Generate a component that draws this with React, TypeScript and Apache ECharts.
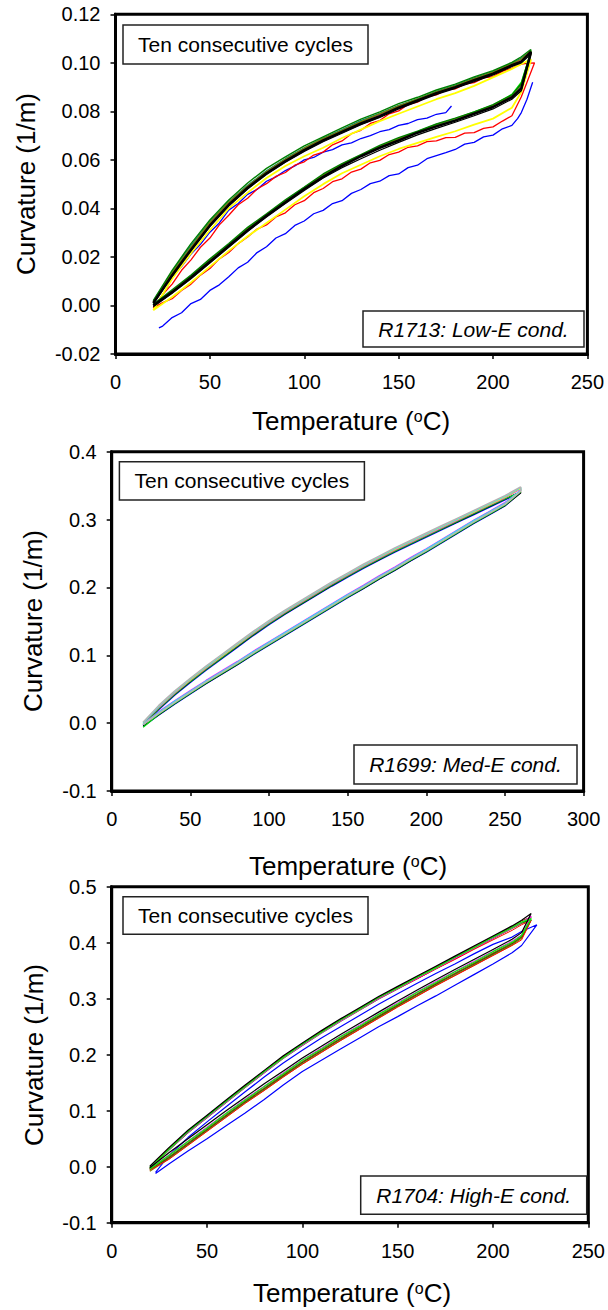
import React, { useEffect, useRef } from "react";
import * as echarts from "echarts";

const FONT = "Liberation Sans, Arial, Helvetica, sans-serif";

// ---------- Panel 1 : R1713 Low-E ----------
const P1_T = [20, 30, 40, 50, 60, 70, 80, 90, 100, 110, 120, 130, 140, 150, 160, 170, 180, 190, 200, 210, 215, 220];
const P1_RED_T = [20, 25, 30, 35, 40, 45, 50, 55, 60, 65, 70, 75, 80, 85, 90, 95, 100, 105, 110, 115, 120, 125, 130, 135, 140, 145, 150, 155, 160, 165, 170, 175, 180, 185, 190, 195, 200, 205, 210, 215, 218, 222];
const P1_BLUE_T = [23, 25, 30, 35, 40, 45, 50, 55, 60, 65, 70, 75, 80, 85, 90, 95, 100, 105, 110, 115, 120, 125, 130, 135, 140, 145, 150, 155, 160, 165, 170, 175, 180, 185, 190, 195, 200, 205, 210, 213, 215, 218, 221];
const P1_BLUE_UP_T = [27, 30, 35, 40, 45, 50, 55, 60, 65, 70, 75, 80, 85, 90, 95, 100, 105, 110, 115, 120, 125, 130, 135, 140, 145, 150, 155, 160, 165, 170, 175, 178];

const P1_BLUE_LO = [-0.0092, -0.0085, -0.005, -0.003, 0.0008, 0.0025, 0.0062, 0.0085, 0.0118, 0.0155, 0.0178, 0.0218, 0.0242, 0.0278, 0.0296, 0.033, 0.0348, 0.0378, 0.0392, 0.042, 0.0432, 0.0462, 0.0478, 0.0502, 0.0512, 0.0535, 0.0542, 0.0568, 0.0578, 0.0605, 0.0618, 0.063, 0.0643, 0.0665, 0.0672, 0.0695, 0.0702, 0.0728, 0.0742, 0.077, 0.0795, 0.085, 0.092];
const P1_BLUE_UP = [0.0068, 0.0118, 0.016, 0.0212, 0.0252, 0.0302, 0.034, 0.0393, 0.042, 0.0458, 0.0478, 0.0512, 0.053, 0.0556, 0.0575, 0.06, 0.061, 0.0632, 0.0642, 0.0662, 0.067, 0.0688, 0.07, 0.0716, 0.0725, 0.0742, 0.075, 0.0766, 0.0772, 0.0788, 0.0795, 0.0822];
const P1_RED_LO = [-0.001, 0.0012, 0.0028, 0.0062, 0.0088, 0.0125, 0.0152, 0.0192, 0.0218, 0.0255, 0.0282, 0.0315, 0.0332, 0.0365, 0.0382, 0.0415, 0.0432, 0.0465, 0.0482, 0.051, 0.0522, 0.055, 0.0562, 0.0588, 0.0598, 0.0622, 0.0632, 0.0652, 0.0658, 0.0675, 0.0678, 0.0692, 0.0693, 0.071, 0.0712, 0.073, 0.0736, 0.076, 0.0782, 0.086, 0.092, 0.1];
const P1_RED_UP = [-0.001, 0.0045, 0.0088, 0.0145, 0.0188, 0.024, 0.0278, 0.0332, 0.0372, 0.0415, 0.0442, 0.048, 0.0502, 0.0532, 0.0548, 0.0578, 0.0592, 0.062, 0.0632, 0.0662, 0.0678, 0.0708, 0.0722, 0.075, 0.0762, 0.079, 0.0802, 0.0828, 0.0838, 0.086, 0.0868, 0.0888, 0.0893, 0.0912, 0.0918, 0.0938, 0.0943, 0.0965, 0.0978, 0.0995, 0.0998, 0.1];
const P1_YELLOW_LO = [-0.002, 0.0035, 0.0095, 0.016, 0.0225, 0.0285, 0.034, 0.0395, 0.045, 0.05, 0.0545, 0.058, 0.0615, 0.0645, 0.067, 0.0695, 0.0718, 0.0745, 0.077, 0.0815, 0.088, 0.101];
const P1_YELLOW_UP = [-0.002, 0.011, 0.0215, 0.031, 0.04, 0.0465, 0.0525, 0.0575, 0.0615, 0.065, 0.069, 0.0725, 0.076, 0.079, 0.082, 0.085, 0.0875, 0.0905, 0.094, 0.0975, 0.0995, 0.1015];
const P1_LIME_LO = [0.0002, 0.0057, 0.0119, 0.0186, 0.0249, 0.0316, 0.0374, 0.0431, 0.0485, 0.0537, 0.058, 0.062, 0.0656, 0.0687, 0.0717, 0.0746, 0.0769, 0.0798, 0.0826, 0.087, 0.092, 0.1042];
const P1_LIME_UP = [0.0012, 0.013, 0.0238, 0.0338, 0.0418, 0.0485, 0.0546, 0.0597, 0.0643, 0.0684, 0.072, 0.0755, 0.0788, 0.082, 0.085, 0.0879, 0.0904, 0.0933, 0.096, 0.0994, 0.1012, 0.1044];
const P1_MAGENTA_LO = [0.0, 0.0056, 0.0117, 0.0183, 0.0247, 0.0312, 0.0373, 0.0428, 0.0484, 0.0534, 0.0578, 0.0618, 0.0653, 0.0684, 0.0715, 0.0743, 0.0768, 0.0795, 0.0823, 0.0863, 0.09, 0.1038];
const P1_MAGENTA_UP = [0.001, 0.0128, 0.0235, 0.0335, 0.042, 0.0488, 0.0548, 0.0598, 0.0642, 0.0683, 0.0718, 0.0752, 0.0785, 0.0818, 0.0848, 0.0878, 0.0902, 0.093, 0.0958, 0.0992, 0.101, 0.1042];
const P1_TEAL_LO = [0.0003, 0.0058, 0.0118, 0.0185, 0.0248, 0.0315, 0.0372, 0.0428, 0.0483, 0.0535, 0.058, 0.0618, 0.0652, 0.0685, 0.0714, 0.0742, 0.0766, 0.0793, 0.0822, 0.0862, 0.0905, 0.1042];
const P1_TEAL_UP = [0.0018, 0.014, 0.0248, 0.0345, 0.0428, 0.0495, 0.0555, 0.0605, 0.065, 0.069, 0.0725, 0.0762, 0.0792, 0.0825, 0.0852, 0.0882, 0.0908, 0.0938, 0.0965, 0.0998, 0.102, 0.1048];
const P1_OLIVE_LO = [0.0002, 0.006, 0.0122, 0.0188, 0.025, 0.0318, 0.0375, 0.0432, 0.0486, 0.0538, 0.0582, 0.062, 0.0655, 0.0688, 0.0715, 0.0745, 0.077, 0.0796, 0.0825, 0.0865, 0.091, 0.1035];
const P1_OLIVE_UP = [0.0015, 0.0135, 0.024, 0.0342, 0.0425, 0.0492, 0.0552, 0.0602, 0.0648, 0.0688, 0.0722, 0.0758, 0.079, 0.0822, 0.085, 0.088, 0.0905, 0.0935, 0.0962, 0.0996, 0.1015, 0.105];
const P1_BLACK2_LO = [-0.0005, 0.005, 0.011, 0.0175, 0.024, 0.0305, 0.0365, 0.042, 0.0474, 0.0525, 0.0568, 0.0605, 0.064, 0.0672, 0.0703, 0.073, 0.0755, 0.0782, 0.081, 0.085, 0.0885, 0.1035];
const P1_BLACK2_UP = [0.0005, 0.012, 0.0225, 0.0325, 0.041, 0.048, 0.054, 0.059, 0.0635, 0.0675, 0.071, 0.0745, 0.0775, 0.081, 0.084, 0.087, 0.0895, 0.0922, 0.095, 0.0985, 0.1, 0.1035];
const P1_GREEN_LO = [0.0005, 0.0065, 0.0125, 0.0192, 0.0255, 0.0322, 0.0378, 0.0435, 0.0488, 0.0542, 0.0585, 0.0622, 0.066, 0.0692, 0.0718, 0.0748, 0.0772, 0.0798, 0.0828, 0.0868, 0.0915, 0.1045];
const P1_GREEN_UP = [0.002, 0.0145, 0.0255, 0.0352, 0.0435, 0.0505, 0.0565, 0.0612, 0.0658, 0.0695, 0.0732, 0.0768, 0.0798, 0.0832, 0.0858, 0.0888, 0.0912, 0.0942, 0.0968, 0.1002, 0.1025, 0.1055];
const P1_BLACK_LO = [0.0, 0.0055, 0.0115, 0.018, 0.0245, 0.031, 0.037, 0.0425, 0.048, 0.053, 0.0575, 0.0615, 0.065, 0.068, 0.0712, 0.0738, 0.0762, 0.079, 0.0818, 0.0858, 0.0895, 0.104];
const P1_BLACK_UP = [0.001, 0.0125, 0.023, 0.033, 0.0415, 0.0485, 0.0545, 0.0595, 0.064, 0.068, 0.0715, 0.075, 0.078, 0.0815, 0.0845, 0.0875, 0.09, 0.0928, 0.0955, 0.099, 0.1005, 0.1045];

// ---------- Panel 2 : R1699 Med-E ----------
const P2_T = [20, 30, 40, 50, 60, 70, 80, 90, 100, 110, 120, 130, 140, 150, 160, 170, 180, 190, 200, 210, 220, 230, 240, 250, 260];
const P2_BLUE_LO = [-0.005, 0.012, 0.028, 0.043, 0.058, 0.072, 0.086, 0.101, 0.115, 0.129, 0.143, 0.157, 0.171, 0.185, 0.198, 0.212, 0.225, 0.239, 0.252, 0.266, 0.28, 0.294, 0.307, 0.32, 0.34];
const P2_BLUE_UP = [-0.003, 0.02, 0.041, 0.06, 0.078, 0.095, 0.112, 0.129, 0.145, 0.16, 0.174, 0.188, 0.202, 0.215, 0.228, 0.24, 0.252, 0.263, 0.274, 0.285, 0.296, 0.307, 0.318, 0.329, 0.34];
const P2_BLACK_LO = [-0.004, 0.0125, 0.0285, 0.0435, 0.0585, 0.0725, 0.0865, 0.1015, 0.1155, 0.1295, 0.1435, 0.1575, 0.1715, 0.1855, 0.1985, 0.2125, 0.2255, 0.2395, 0.2525, 0.2665, 0.2805, 0.2945, 0.3075, 0.3205, 0.339];
const P2_BLACK_UP = [-0.002, 0.021, 0.042, 0.061, 0.079, 0.096, 0.113, 0.13, 0.146, 0.161, 0.175, 0.189, 0.203, 0.216, 0.229, 0.241, 0.253, 0.264, 0.275, 0.286, 0.297, 0.308, 0.319, 0.33, 0.341];
const P2_LIME_LO = [-0.006, 0.013, 0.029, 0.044, 0.059, 0.073, 0.087, 0.102, 0.116, 0.13, 0.144, 0.158, 0.172, 0.186, 0.199, 0.213, 0.226, 0.24, 0.253, 0.267, 0.281, 0.295, 0.308, 0.321, 0.341];
const P2_LIME_UP = [-0.002, 0.0215, 0.0425, 0.0615, 0.0795, 0.0965, 0.1135, 0.1305, 0.1465, 0.1615, 0.1755, 0.1895, 0.2035, 0.2165, 0.2295, 0.2415, 0.2535, 0.2645, 0.2755, 0.2865, 0.2975, 0.3085, 0.3195, 0.3305, 0.342];
const P2_MAGENTA_LO = [-0.001, 0.017, 0.033, 0.048, 0.063, 0.077, 0.091, 0.106, 0.12, 0.134, 0.148, 0.162, 0.176, 0.19, 0.203, 0.217, 0.23, 0.244, 0.257, 0.271, 0.285, 0.299, 0.312, 0.325, 0.343];
const P2_MAGENTA_UP = [0.001, 0.023, 0.044, 0.063, 0.081, 0.098, 0.115, 0.132, 0.148, 0.163, 0.177, 0.191, 0.205, 0.218, 0.231, 0.243, 0.255, 0.266, 0.277, 0.288, 0.299, 0.31, 0.321, 0.332, 0.345];
const P2_YELLOW_LO = [-0.002, 0.015, 0.031, 0.046, 0.061, 0.075, 0.089, 0.104, 0.118, 0.132, 0.146, 0.16, 0.174, 0.188, 0.201, 0.215, 0.228, 0.242, 0.255, 0.269, 0.283, 0.297, 0.31, 0.323, 0.342];
const P2_YELLOW_UP = [0.001, 0.024, 0.045, 0.064, 0.082, 0.099, 0.116, 0.133, 0.149, 0.164, 0.178, 0.192, 0.206, 0.219, 0.232, 0.244, 0.256, 0.267, 0.278, 0.289, 0.3, 0.311, 0.322, 0.333, 0.346];
const P2_CYAN_LO = [-0.002, 0.016, 0.032, 0.047, 0.062, 0.076, 0.09, 0.105, 0.119, 0.133, 0.147, 0.161, 0.175, 0.189, 0.202, 0.216, 0.229, 0.243, 0.256, 0.27, 0.284, 0.298, 0.311, 0.324, 0.343];
const P2_CYAN_UP = [0.0, 0.025, 0.046, 0.065, 0.083, 0.1, 0.117, 0.134, 0.15, 0.165, 0.179, 0.193, 0.207, 0.22, 0.233, 0.245, 0.257, 0.268, 0.279, 0.29, 0.301, 0.312, 0.323, 0.334, 0.347];
const P2_GRAY_LO = [-0.002, 0.0145, 0.0305, 0.0455, 0.0605, 0.0745, 0.0885, 0.1035, 0.1175, 0.1315, 0.1455, 0.1595, 0.1735, 0.1875, 0.2005, 0.2145, 0.2275, 0.2415, 0.2545, 0.2685, 0.2825, 0.2965, 0.3095, 0.3225, 0.342];
const P2_GRAY_UP = [0.001, 0.026, 0.047, 0.066, 0.084, 0.101, 0.118, 0.135, 0.151, 0.166, 0.18, 0.194, 0.208, 0.221, 0.234, 0.246, 0.258, 0.269, 0.28, 0.291, 0.302, 0.313, 0.324, 0.335, 0.348];

// ---------- Panel 3 : R1704 High-E ----------
const P3_T = [20, 30, 40, 50, 60, 70, 80, 90, 100, 110, 120, 130, 140, 150, 160, 170, 180, 190, 200, 210, 215, 220];
const P3_BLUE_T = [23, 30, 40, 50, 60, 70, 80, 90, 100, 110, 120, 130, 140, 150, 160, 170, 180, 190, 200, 210, 215, 223];
const P3_BLUE_LO = [-0.012, 0.005, 0.028, 0.05, 0.073, 0.096, 0.12, 0.146, 0.17, 0.19, 0.21, 0.23, 0.25, 0.268, 0.287, 0.305, 0.324, 0.343, 0.362, 0.382, 0.395, 0.432];
const P3_BLUE_UP = [-0.01, 0.02, 0.052, 0.08, 0.107, 0.134, 0.16, 0.185, 0.208, 0.23, 0.25, 0.27, 0.29, 0.309, 0.327, 0.345, 0.362, 0.38, 0.397, 0.41, 0.42, 0.432];
const P3_GRAY_LO = [-0.004, 0.018, 0.043, 0.068, 0.093, 0.118, 0.141, 0.165, 0.188, 0.209, 0.23, 0.25, 0.27, 0.29, 0.309, 0.328, 0.346, 0.364, 0.382, 0.4, 0.411, 0.444];
const P3_GRAY_UP = [-0.002, 0.029, 0.06, 0.087, 0.114, 0.141, 0.167, 0.193, 0.216, 0.238, 0.259, 0.279, 0.299, 0.317, 0.335, 0.353, 0.371, 0.389, 0.407, 0.425, 0.434, 0.444];
const P3_OLIVE_LO = [-0.008, 0.014, 0.039, 0.064, 0.089, 0.114, 0.137, 0.161, 0.184, 0.205, 0.226, 0.246, 0.266, 0.286, 0.305, 0.324, 0.342, 0.36, 0.378, 0.396, 0.408, 0.44];
const P3_OLIVE_UP = [-0.004, 0.03, 0.061, 0.088, 0.115, 0.142, 0.168, 0.194, 0.217, 0.239, 0.26, 0.28, 0.3, 0.318, 0.336, 0.354, 0.372, 0.39, 0.408, 0.426, 0.435, 0.44];
const P3_DKGREEN_LO = [-0.005, 0.016, 0.041, 0.066, 0.091, 0.116, 0.139, 0.163, 0.186, 0.207, 0.228, 0.248, 0.268, 0.288, 0.307, 0.326, 0.344, 0.362, 0.38, 0.398, 0.41, 0.441];
const P3_DKGREEN_UP = [-0.001, 0.031, 0.062, 0.089, 0.116, 0.143, 0.169, 0.195, 0.218, 0.24, 0.261, 0.281, 0.301, 0.319, 0.337, 0.355, 0.373, 0.391, 0.409, 0.427, 0.436, 0.441];
const P3_RED_LO = [-0.006, 0.013, 0.038, 0.063, 0.088, 0.113, 0.136, 0.16, 0.183, 0.204, 0.225, 0.245, 0.265, 0.285, 0.304, 0.323, 0.341, 0.359, 0.377, 0.395, 0.405, 0.44];
const P3_RED_UP = [-0.003, 0.033, 0.064, 0.091, 0.118, 0.145, 0.171, 0.197, 0.22, 0.241, 0.262, 0.281, 0.301, 0.318, 0.335, 0.353, 0.37, 0.388, 0.405, 0.422, 0.432, 0.44];
const P3_BROWN_LO = [-0.004, 0.017, 0.042, 0.067, 0.092, 0.117, 0.14, 0.164, 0.187, 0.208, 0.229, 0.249, 0.269, 0.289, 0.308, 0.327, 0.345, 0.363, 0.381, 0.399, 0.41, 0.446];
const P3_BROWN_UP = [0.0, 0.033, 0.064, 0.091, 0.118, 0.145, 0.171, 0.197, 0.22, 0.242, 0.263, 0.283, 0.303, 0.321, 0.339, 0.357, 0.375, 0.393, 0.411, 0.429, 0.439, 0.446];
const P3_MAGENTA_LO = [-0.003, 0.021, 0.046, 0.071, 0.096, 0.121, 0.144, 0.168, 0.191, 0.212, 0.233, 0.253, 0.273, 0.293, 0.312, 0.331, 0.349, 0.367, 0.385, 0.403, 0.414, 0.447];
const P3_MAGENTA_UP = [-0.001, 0.03, 0.061, 0.088, 0.115, 0.142, 0.168, 0.194, 0.217, 0.239, 0.26, 0.28, 0.3, 0.318, 0.336, 0.354, 0.372, 0.39, 0.408, 0.426, 0.436, 0.447];
const P3_LIME_LO = [-0.004, 0.02, 0.045, 0.069, 0.095, 0.119, 0.143, 0.166, 0.19, 0.21, 0.232, 0.251, 0.272, 0.291, 0.311, 0.329, 0.348, 0.365, 0.384, 0.401, 0.413, 0.443];
const P3_LIME_UP = [-0.002, 0.031, 0.063, 0.09, 0.117, 0.143, 0.17, 0.195, 0.219, 0.24, 0.262, 0.281, 0.302, 0.319, 0.338, 0.355, 0.374, 0.391, 0.41, 0.427, 0.437, 0.443];
const P3_BLACK_LO = [-0.002, 0.025, 0.05, 0.075, 0.1, 0.124, 0.148, 0.171, 0.194, 0.215, 0.236, 0.256, 0.276, 0.296, 0.315, 0.334, 0.352, 0.37, 0.388, 0.406, 0.418, 0.452];
const P3_BLACK_UP = [0.001, 0.034, 0.065, 0.092, 0.119, 0.146, 0.172, 0.198, 0.221, 0.243, 0.264, 0.284, 0.304, 0.322, 0.34, 0.358, 0.376, 0.394, 0.412, 0.43, 0.44, 0.452];

const LEGEND_TEXT = "Ten consecutive cycles";
const PANEL_LABELS = ["R1713: Low-E cond.", "R1699: Med-E cond.", "R1704: High-E cond."];

function loop(T: number[], lo: number[], up: number[]) {
  const a = T.map((t, i) => [t, lo[i]]);
  const b = T.map((t, i) => [t, up[i]]).reverse();
  return a.concat(b);
}
function branch(T: number[], v: number[]) {
  return T.map((t, i) => [t, v[i]]);
}

function line(idx: number, data: number[][], color: string, width: number) {
  return {
    type: "line",
    xAxisIndex: idx,
    yAxisIndex: idx,
    data,
    showSymbol: false,
    symbol: "none",
    silent: true,
    lineStyle: { color, width },
    itemStyle: { color },
  };
}

const GRIDS = [
  { left: 115.5, top: 14.3, width: 471.9, height: 339.7 },
  { left: 111.7, top: 451.7, width: 471.9, height: 339.3 },
  { left: 111.7, top: 886.7, width: 480.5, height: 336 },
];

function xAxis(idx: number, max: number) {
  return {
    type: "value",
    gridIndex: idx,
    min: 0,
    max,
    interval: 50,
    axisLine: { show: true, onZero: false, lineStyle: { color: "#000", width: 3 } },
    axisTick: { show: true, inside: false, length: 5, lineStyle: { color: "#000", width: 1.5 } },
    axisLabel: { color: "#000", fontSize: 20, fontFamily: FONT, margin: 18 },
    splitLine: { show: false },
  };
}
function yAxis(idx: number, min: number, max: number, interval: number, dec: number) {
  return {
    type: "value",
    gridIndex: idx,
    min,
    max,
    interval,
    axisLine: { show: true, onZero: false, lineStyle: { color: "#000", width: 3 } },
    axisTick: { show: true, inside: false, length: 5, lineStyle: { color: "#000", width: 1.5 } },
    axisLabel: {
      color: "#000",
      fontSize: 20,
      fontFamily: FONT,
      margin: 15,
      formatter: (v: number) => v.toFixed(dec),
    },
    splitLine: { show: false },
  };
}

function box(x: number, y: number, w: number, h: number, text: string, italic: boolean) {
  return [
    {
      type: "rect",
      z: 10,
      shape: { x, y, width: w, height: h },
      style: { fill: "#fff", stroke: "#222", lineWidth: 1.5 },
    },
    {
      type: "text",
      z: 11,
      x: x + w / 2,
      y: y + h / 2,
      style: {
        text,
        fill: "#000",
        fontSize: 21,
        fontFamily: FONT,
        fontStyle: italic ? "italic" : "normal",
        align: "center",
        verticalAlign: "middle",
        textAlign: "center",
        textVerticalAlign: "middle",
      },
    },
  ];
}

function xTitle(cx: number, cy: number) {
  return {
    type: "text",
    z: 11,
    x: cx,
    y: cy,
    style: {
      text: "{a|Temperature (}{s|o}{a|C)}",
      rich: {
        a: { fontSize: 26, fontFamily: FONT, fill: "#000", color: "#000" },
        s: { fontSize: 16, fontFamily: FONT, fill: "#000", color: "#000", verticalAlign: "top" },
      },
      align: "center",
      verticalAlign: "middle",
      textAlign: "center",
      textVerticalAlign: "middle",
    },
  };
}
function yTitle(cx: number, cy: number) {
  return {
    type: "text",
    z: 11,
    x: cx,
    y: cy,
    rotation: Math.PI / 2,
    style: {
      text: "Curvature (1/m)",
      fill: "#000",
      fontSize: 26,
      fontFamily: FONT,
      align: "center",
      verticalAlign: "middle",
      textAlign: "center",
      textVerticalAlign: "middle",
    },
  };
}

export default function App() {
  const ref = useRef<HTMLDivElement>(null);
  useEffect(() => {
    if (!ref.current) return;
    const chart = echarts.init(ref.current, null, { renderer: "svg" });
    const series = [
      // panel 1
      line(0, branch(P1_BLUE_T, P1_BLUE_LO), "#0000ff", 1.3),
      line(0, branch(P1_BLUE_UP_T, P1_BLUE_UP), "#0000ff", 1.3),
      line(0, loop(P1_RED_T, P1_RED_LO, P1_RED_UP), "#ff0000", 1.3),
      line(0, loop(P1_T, P1_YELLOW_LO, P1_YELLOW_UP), "#ffff00", 1.8),
      line(0, loop(P1_T, P1_LIME_LO, P1_LIME_UP), "#00ff00", 1.3),
      line(0, loop(P1_T, P1_MAGENTA_LO, P1_MAGENTA_UP), "#ff00ff", 1.2),
      line(0, loop(P1_T, P1_TEAL_LO, P1_TEAL_UP), "#008080", 1.3),
      line(0, loop(P1_T, P1_OLIVE_LO, P1_OLIVE_UP), "#808000", 1.4),
      line(0, loop(P1_T, P1_BLACK2_LO, P1_BLACK2_UP), "#000000", 1.2),
      line(0, loop(P1_T, P1_GREEN_LO, P1_GREEN_UP), "#008000", 1.4),
      line(0, loop(P1_T, P1_BLACK_LO, P1_BLACK_UP), "#000000", 2.5),
      // panel 2
      line(1, loop(P2_T, P2_BLUE_LO, P2_BLUE_UP), "#0000ff", 1.3),
      line(1, loop(P2_T, P2_BLACK_LO, P2_BLACK_UP), "#000000", 1.2),
      line(1, loop(P2_T, P2_LIME_LO, P2_LIME_UP), "#00e000", 1.2),
      line(1, loop(P2_T, P2_MAGENTA_LO, P2_MAGENTA_UP), "#ff00ff", 1.2),
      line(1, loop(P2_T, P2_YELLOW_LO, P2_YELLOW_UP), "#ffff00", 1.2),
      line(1, loop(P2_T, P2_CYAN_LO, P2_CYAN_UP), "#00ffff", 1.4),
      line(1, loop(P2_T, P2_GRAY_LO, P2_GRAY_UP), "#b4b4b4", 1.8),
      // panel 3
      line(2, loop(P3_BLUE_T, P3_BLUE_LO, P3_BLUE_UP), "#0000ff", 1.2),
      line(2, loop(P3_T, P3_GRAY_LO, P3_GRAY_UP), "#808080", 1),
      line(2, loop(P3_T, P3_OLIVE_LO, P3_OLIVE_UP), "#808000", 1.2),
      line(2, loop(P3_T, P3_DKGREEN_LO, P3_DKGREEN_UP), "#008000", 1.2),
      line(2, loop(P3_T, P3_RED_LO, P3_RED_UP), "#ff0000", 1),
      line(2, loop(P3_T, P3_BROWN_LO, P3_BROWN_UP), "#993300", 1),
      line(2, loop(P3_T, P3_MAGENTA_LO, P3_MAGENTA_UP), "#ff00ff", 1),
      line(2, loop(P3_T, P3_LIME_LO, P3_LIME_UP), "#00ff00", 1.2),
      line(2, loop(P3_T, P3_BLACK_LO, P3_BLACK_UP), "#000000", 1.2),
    ];
    const option = {
      animation: false,
      backgroundColor: "#ffffff",
      grid: GRIDS.map((g) => ({ ...g, show: true, borderColor: "#000", borderWidth: 3, backgroundColor: "transparent" })),
      xAxis: [xAxis(0, 250), xAxis(1, 300), xAxis(2, 250)],
      yAxis: [yAxis(0, -0.02, 0.12, 0.02, 2), yAxis(1, -0.1, 0.4, 0.1, 1), yAxis(2, -0.1, 0.5, 0.1, 1)],
      series,
      graphic: [
        ...box(123, 25, 245, 39, LEGEND_TEXT, false),
        ...box(363, 311, 221, 36, PANEL_LABELS[0], true),
        xTitle(351, 421),
        yTitle(26, 184),
        ...box(119.4, 461.7, 245, 38.3, LEGEND_TEXT, false),
        ...box(354, 745, 223, 39, PANEL_LABELS[1], true),
        xTitle(348, 866),
        yTitle(33, 621),
        ...box(123, 896.7, 245, 37.6, LEGEND_TEXT, false),
        ...box(360.7, 1176, 226, 38.3, PANEL_LABELS[2], true),
        xTitle(352, 1293),
        yTitle(34, 1055),
      ],
    };
    chart.setOption(option as any);
    return () => chart.dispose();
  }, []);
  return (
    <div
      ref={ref}
      style={{ position: "absolute", left: 0, top: 0, width: 608, height: 1310, background: "#fff" }}
    />
  );
}
